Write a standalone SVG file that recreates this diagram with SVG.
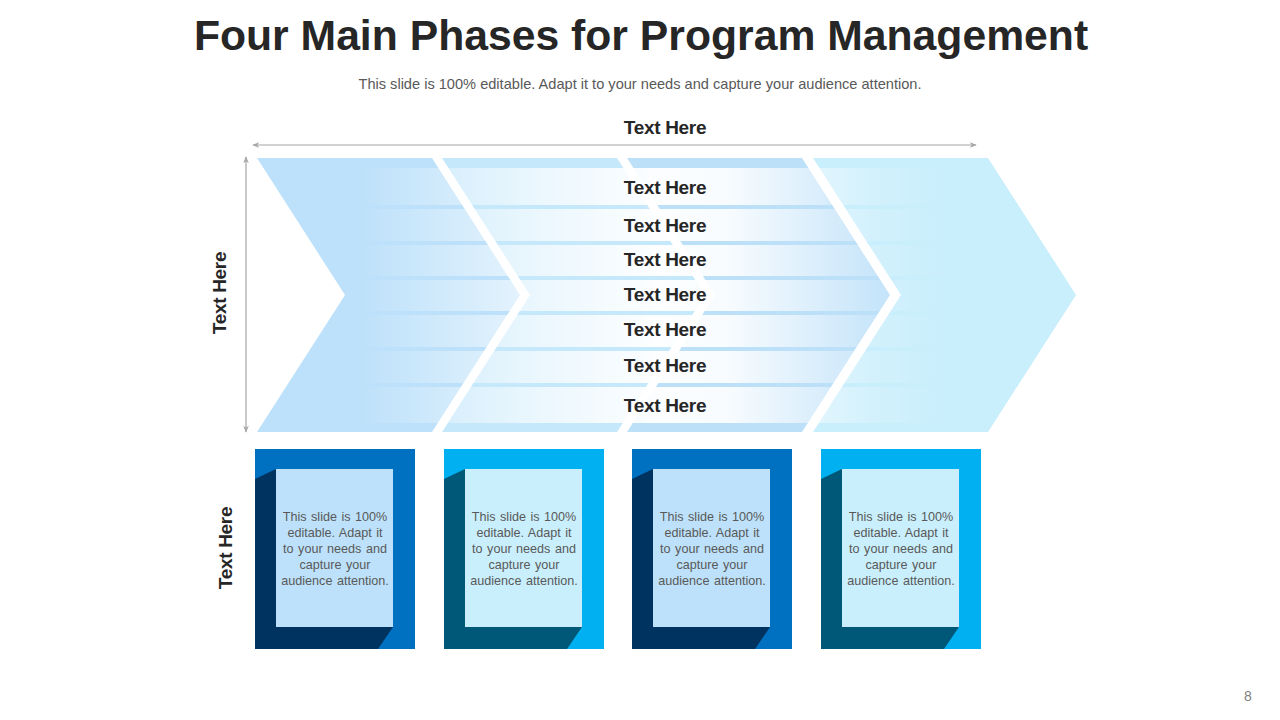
<svg xmlns="http://www.w3.org/2000/svg" width="1280" height="720" viewBox="0 0 1280 720">
<defs>
<linearGradient id="bandGrad" gradientUnits="userSpaceOnUse" x1="360" y1="0" x2="950" y2="0">
<stop offset="0" stop-color="#ffffff" stop-opacity="0"/>
<stop offset="0.3" stop-color="#ffffff" stop-opacity="0.65"/>
<stop offset="0.5" stop-color="#ffffff" stop-opacity="0.95"/>
<stop offset="0.62" stop-color="#ffffff" stop-opacity="0.9"/>
<stop offset="0.88" stop-color="#ffffff" stop-opacity="0.15"/>
<stop offset="1" stop-color="#ffffff" stop-opacity="0"/>
</linearGradient>
<marker id="arr" viewBox="0 0 10 10" refX="9" refY="5" markerWidth="7" markerHeight="7" orient="auto-start-reverse" markerUnits="userSpaceOnUse">
<path d="M0,1 L10,5 L0,9 L3,5 Z" fill="#A6A6A6"/>
</marker>
</defs>
<style>
.title{font-family:"Liberation Sans",Arial,sans-serif;font-weight:bold;font-size:42.7px;fill:#262626}
.sub{font-family:"Liberation Sans",Arial,sans-serif;font-size:14.6px;fill:#595959}
.pg{font-family:"Liberation Sans",Arial,sans-serif;font-size:14px;fill:#7F7F7F}
.lbl{font-family:"Liberation Sans",Arial,sans-serif;font-weight:bold;font-size:19px;fill:#262626;letter-spacing:-0.3px}
.body{font-family:"Liberation Sans",Arial,sans-serif;font-size:12.6px;fill:#595959;word-spacing:1px}
.axis{stroke:#A6A6A6;stroke-width:1.2;fill:none}
.band{fill:url(#bandGrad)}
</style>
<rect width="1280" height="720" fill="#ffffff"/>
<text class="title" x="641" y="50" text-anchor="middle">Four Main Phases for Program Management</text>
<text class="sub" x="640" y="89" text-anchor="middle">This slide is 100% editable. Adapt it to your needs and capture your audience attention.</text>

<g id="connectors">
<line class="axis" x1="253" y1="145" x2="976" y2="145" marker-start="url(#arr)" marker-end="url(#arr)"/>
<line class="axis" x1="246" y1="157" x2="246" y2="432" marker-start="url(#arr)" marker-end="url(#arr)"/>
</g>
<text class="lbl" x="665" y="134" text-anchor="middle">Text Here</text>
<text class="lbl" transform="translate(226,293) rotate(-90)" text-anchor="middle">Text Here</text>
<text class="lbl" transform="translate(232,548) rotate(-90)" text-anchor="middle">Text Here</text>

<g id="chevron1"><polygon points="257,158 432,158 520,295 432,432 257,432 345,295" fill="#BDE1FA"/></g>
<g id="chevron2"><polygon points="442,158 617,158 705,295 617,432 442,432 530,295" fill="#C6E8FB"/></g>
<g id="chevron3"><polygon points="627,158 802,158 890,295 802,432 627,432 715,295" fill="#BDE0F9"/></g>
<g id="chevron4"><polygon points="813,158 988,158 1076,295 988,432 813,432 901,295" fill="#C9EEFC"/></g>

<g id="bands">
<rect class="band" x="360" y="168" width="590" height="37"/>
<rect class="band" x="360" y="209" width="590" height="32"/>
<rect class="band" x="360" y="245" width="590" height="31"/>
<rect class="band" x="360" y="280" width="590" height="31"/>
<rect class="band" x="360" y="315" width="590" height="32"/>
<rect class="band" x="360" y="351" width="590" height="32"/>
<rect class="band" x="360" y="387" width="590" height="36"/>
<text class="lbl" x="665" y="194" text-anchor="middle">Text Here</text>
<text class="lbl" x="665" y="232" text-anchor="middle">Text Here</text>
<text class="lbl" x="665" y="266" text-anchor="middle">Text Here</text>
<text class="lbl" x="665" y="301" text-anchor="middle">Text Here</text>
<text class="lbl" x="665" y="336" text-anchor="middle">Text Here</text>
<text class="lbl" x="665" y="372" text-anchor="middle">Text Here</text>
<text class="lbl" x="665" y="412" text-anchor="middle">Text Here</text>
</g>

<g id="box1">
<rect x="255" y="449" width="160" height="200" fill="#0070C0"/>
<polygon points="255,479 276,469 276,627 393,627 378,649 255,649" fill="#003360"/>
<rect x="276" y="469" width="117" height="158" fill="#BDE1FA"/>
<text class="body" text-anchor="middle"><tspan x="335" y="521">This slide is 100%</tspan><tspan x="335" y="537">editable. Adapt it</tspan><tspan x="335" y="553">to your needs and</tspan><tspan x="335" y="569">capture your</tspan><tspan x="335" y="585">audience attention.</tspan></text>
</g>
<g id="box2">
<rect x="444" y="449" width="160" height="200" fill="#00B0F0"/>
<polygon points="444,479 465,469 465,627 582,627 567,649 444,649" fill="#005878"/>
<rect x="465" y="469" width="117" height="158" fill="#C9EFFC"/>
<text class="body" text-anchor="middle"><tspan x="524" y="521">This slide is 100%</tspan><tspan x="524" y="537">editable. Adapt it</tspan><tspan x="524" y="553">to your needs and</tspan><tspan x="524" y="569">capture your</tspan><tspan x="524" y="585">audience attention.</tspan></text>
</g>
<g id="box3">
<rect x="632" y="449" width="160" height="200" fill="#0070C0"/>
<polygon points="632,479 653,469 653,627 770,627 755,649 632,649" fill="#003360"/>
<rect x="653" y="469" width="117" height="158" fill="#BDE1FA"/>
<text class="body" text-anchor="middle"><tspan x="712" y="521">This slide is 100%</tspan><tspan x="712" y="537">editable. Adapt it</tspan><tspan x="712" y="553">to your needs and</tspan><tspan x="712" y="569">capture your</tspan><tspan x="712" y="585">audience attention.</tspan></text>
</g>
<g id="box4">
<rect x="821" y="449" width="160" height="200" fill="#00B0F0"/>
<polygon points="821,479 842,469 842,627 959,627 944,649 821,649" fill="#005878"/>
<rect x="842" y="469" width="117" height="158" fill="#C9EFFC"/>
<text class="body" text-anchor="middle"><tspan x="901" y="521">This slide is 100%</tspan><tspan x="901" y="537">editable. Adapt it</tspan><tspan x="901" y="553">to your needs and</tspan><tspan x="901" y="569">capture your</tspan><tspan x="901" y="585">audience attention.</tspan></text>
</g>
<text class="pg" x="1248" y="701" text-anchor="middle">8</text>
</svg>
